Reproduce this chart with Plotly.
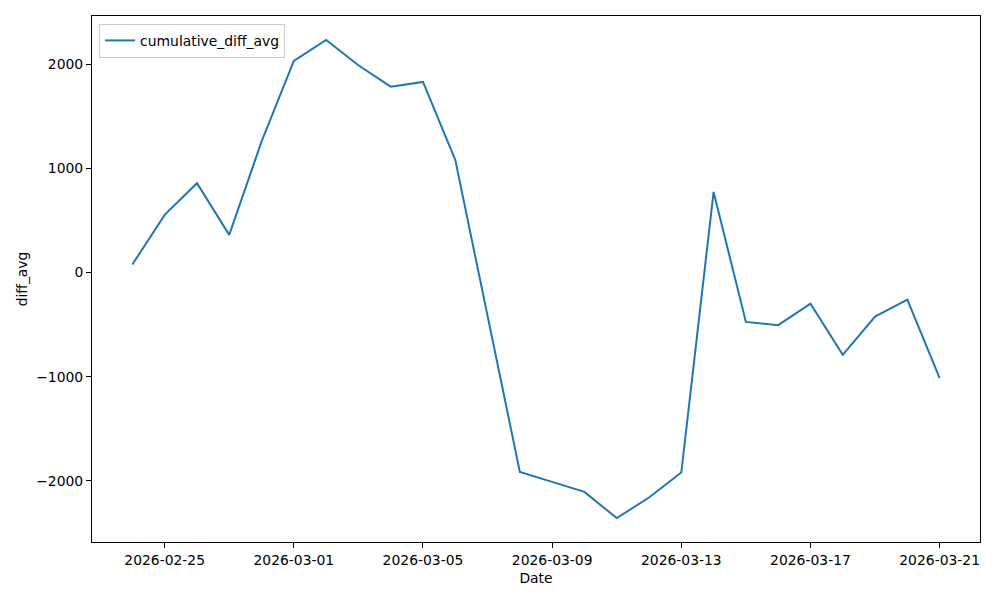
import plotly.graph_objects as go
import pandas as pd

dates = pd.date_range("2026-02-24", "2026-03-21", freq="D").strftime("%Y-%m-%d").tolist()
values = [77, 554, 858, 362, 1257, 2032, 2233, 1990, 1785, 1830, 1082, -416, -1913,
          -2009, -2105, -2357, -2159, -1919, 774, -473, -505, -298, -790, -422, -259, -1013]
series_name = "cumulative_diff_avg"
x_title = "Date"
y_title = "diff_avg"
y_ticks = [-2000, -1000, 0, 1000, 2000]

fig = go.Figure()
fig.add_trace(go.Scatter(x=dates, y=values, mode="lines", name=series_name,
                         line=dict(color="#1f77b4", width=2), showlegend=True))

font = dict(family="DejaVu Sans", size=13.9, color="black")
axis_common = dict(showgrid=False, zeroline=False, showline=True, linecolor="black",
                   linewidth=1, mirror=True, ticks="outside", ticklen=5, tickwidth=1,
                   tickcolor="black", tickfont=font)

fig.update_layout(
    width=1000, height=600,
    margin=dict(l=84, r=28, t=8, b=66),
    plot_bgcolor="white", paper_bgcolor="white",
    font=font,
    showlegend=True,
    legend=dict(x=0.008, y=0.985, xanchor="left", yanchor="top",
                bgcolor="rgba(255,255,255,0.8)", bordercolor="#cccccc", borderwidth=1,
                font=font, itemwidth=30),
    xaxis=dict(**axis_common, type="date",
               range=["2026-02-22 18:00", "2026-03-22 06:00"],
               tick0="2026-02-25", dtick=4 * 86400000, tickformat="%Y-%m-%d",
               title=dict(text=x_title, font=font, standoff=6)),
    yaxis=dict(**axis_common, range=[-2586, 2463], tickvals=y_ticks,
               ticktext=[f"{v}".replace("-", "\u2212") for v in y_ticks],
               title=dict(text=y_title, font=font, standoff=5)),
)

fig.write_html("out.html")
